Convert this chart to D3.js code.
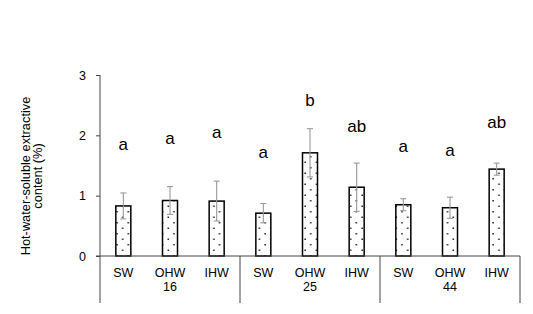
<!DOCTYPE html>
<html>
<head>
<meta charset="utf-8">
<script src="https://cdn.jsdelivr.net/npm/d3@7"></script>
<style>
  body { margin: 0; background: #fff; }
  text { font-family: Arial, "Liberation Sans", sans-serif; fill: #000; }
</style>
</head>
<body>
<svg id="chart" width="533" height="314"></svg>
<script>
// values
const groups = ["16", "25", "44"]
const treatments = ["SW", "OHW", "IHW"]
const meanValues = [0.83, 0.92, 0.91, 0.71, 1.71, 1.14, 0.85, 0.80, 1.44]
const sdValues = [0.215, 0.23, 0.33, 0.16, 0.40, 0.40, 0.10, 0.175, 0.10]
const letters = ["a", "a", "a", "a", "b", "ab", "a", "a", "ab"]
const letterAt = [1.75, 1.86, 1.96, 1.62, 2.49, 2.06, 1.73, 1.66, 2.12]
const yTicks = [0, 1, 2, 3]

const rows = meanValues.map((v, i) => ({
    key: groups[Math.floor(i / 3)] + "-" + treatments[i % 3],
    group: groups[Math.floor(i / 3)],
    treatment: treatments[i % 3],
    mean: v,
    sd: sdValues[i],
    letter: letters[i],
    letterAt: letterAt[i]
}))

const plotLeft = 100, plotRight = 520, plotTop = 75, plotBase = 256, frameBottom = 303

const svg = d3.select("#chart")

// dotted fill like the original
const pat = svg.append("defs").append("pattern")
    .attr("id", "dots")
    .attr("patternUnits", "userSpaceOnUse")
    .attr("width", 11.4)
    .attr("height", 11)
pat.append("rect").attr("width", 11.4).attr("height", 11).attr("fill", "#fff")
pat.append("rect").attr("x", 2.2).attr("y", 2).attr("width", 1.5).attr("height", 1.5).attr("fill", "#222")
pat.append("rect").attr("x", 8).attr("y", 7.5).attr("width", 1.5).attr("height", 1.5).attr("fill", "#222")

const y = d3.scaleLinear().domain([0, 3]).range([plotBase, plotTop])
const xGroup = d3.scaleBand().domain(groups).range([plotLeft, plotRight])
const x = d3.scaleBand().domain(rows.map(d => d.key)).range([plotLeft, plotRight])
const barW = 15

// y axis
const yAxis = svg.append("g")
    .attr("transform", `translate(${plotLeft},0)`)
    .call(d3.axisLeft(y).tickValues(yTicks).tickSize(4).tickPadding(10).tickFormat(d3.format("d")))
yAxis.select(".domain").remove()
yAxis.selectAll("line").attr("stroke", "#444")
yAxis.selectAll("text").attr("font-size", 12.5).attr("font-family", "Arial, 'Liberation Sans', sans-serif")

svg.append("line")
    .attr("x1", plotLeft).attr("x2", plotLeft)
    .attr("y1", y(3)).attr("y2", frameBottom)
    .attr("stroke", "#444")

// bars
svg.append("g")
    .selectAll("rect")
    .data(rows)
    .join("rect")
    .attr("x", d => x(d.key) + x.bandwidth() / 2 - barW / 2)
    .attr("y", d => y(d.mean))
    .attr("width", barW)
    .attr("height", d => y(0) - y(d.mean))
    .attr("fill", "url(#dots)")
    .attr("stroke", "#000")
    .attr("stroke-width", 1.5)

// error bars
const err = svg.append("g").attr("stroke", "#999").attr("stroke-width", 1.1)
err.selectAll("line.v")
    .data(rows)
    .join("line")
    .attr("class", "v")
    .attr("x1", d => x(d.key) + x.bandwidth() / 2)
    .attr("x2", d => x(d.key) + x.bandwidth() / 2)
    .attr("y1", d => y(d.mean + d.sd))
    .attr("y2", d => y(d.mean - d.sd))
err.selectAll("line.t")
    .data(rows.flatMap(d => [d.mean + d.sd, d.mean - d.sd].map(v => ({ key: d.key, v }))))
    .join("line")
    .attr("class", "t")
    .attr("x1", d => x(d.key) + x.bandwidth() / 2 - 3)
    .attr("x2", d => x(d.key) + x.bandwidth() / 2 + 3)
    .attr("y1", d => y(d.v))
    .attr("y2", d => y(d.v))

// significance letters
svg.append("g")
    .selectAll("text")
    .data(rows)
    .join("text")
    .attr("x", d => x(d.key) + x.bandwidth() / 2)
    .attr("y", d => y(d.letterAt))
    .attr("text-anchor", "middle")
    .attr("font-size", 17)
    .text(d => d.letter)

// baseline and category frame
svg.append("line")
    .attr("x1", plotLeft - 4).attr("x2", plotRight)
    .attr("y1", plotBase).attr("y2", plotBase)
    .attr("stroke", "#444")

svg.append("g")
    .selectAll("line")
    .data(groups)
    .join("line")
    .attr("x1", d => xGroup(d) + xGroup.bandwidth())
    .attr("x2", d => xGroup(d) + xGroup.bandwidth())
    .attr("y1", plotBase).attr("y2", frameBottom)
    .attr("stroke", "#444")

svg.append("g")
    .selectAll("text")
    .data(rows)
    .join("text")
    .attr("x", d => x(d.key) + x.bandwidth() / 2)
    .attr("y", 277)
    .attr("text-anchor", "middle")
    .attr("font-size", 12.5)
    .text(d => d.treatment)

svg.append("g")
    .selectAll("text")
    .data(groups)
    .join("text")
    .attr("x", d => xGroup(d) + xGroup.bandwidth() / 2)
    .attr("y", 291)
    .attr("text-anchor", "middle")
    .attr("font-size", 12.5)
    .text(d => d)

// y title
const title = svg.append("text")
    .attr("transform", "translate(0,176) rotate(-90)")
    .attr("text-anchor", "middle")
    .attr("font-size", 12.8)
title.append("tspan").attr("x", 0).attr("y", 29.5).text("Hot-water-soluble extractive")
title.append("tspan").attr("x", 0).attr("y", 41.5).text("content (%)")
</script>
</body>
</html>
